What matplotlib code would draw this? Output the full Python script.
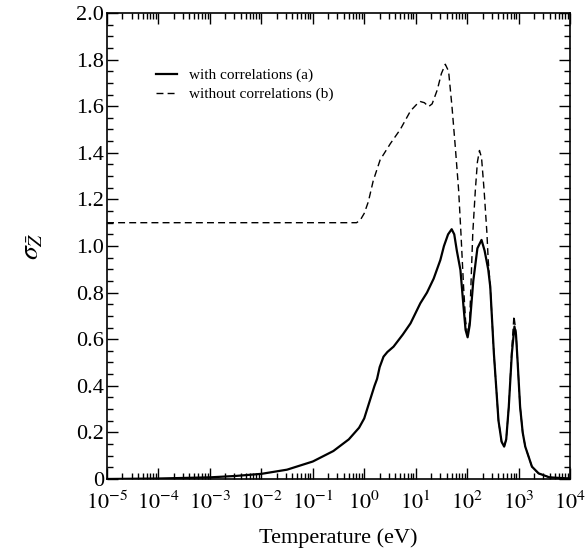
import matplotlib
matplotlib.use("Agg")
import matplotlib.pyplot as plt
import numpy
from matplotlib.ticker import LogLocator, MultipleLocator, FuncFormatter

plt.rcParams['font.family'] = ['Liberation Serif', 'DejaVu Serif']
plt.rcParams['mathtext.fontset'] = 'stix'

# log10 of temperature (eV) and sigma values
logT_a = [-5.0, -4.0, -3.0, -2.5, -2.0, -1.5, -1.0, -0.6, -0.3, -0.1, 0.0,
          0.1, 0.2, 0.25, 0.3, 0.375, 0.45, 0.57, 0.75, 0.9, 1.09, 1.22,
          1.35, 1.48, 1.55, 1.63, 1.70, 1.75, 1.80, 1.87, 1.93, 1.97, 2.01,
          2.05, 2.12, 2.20, 2.28, 2.34, 2.41, 2.45, 2.52, 2.61, 2.67, 2.72,
          2.76, 2.81, 2.87, 2.92, 2.95, 2.98, 3.03, 3.08, 3.13, 3.26, 3.39,
          3.6, 4.0]
sigma_a = [0.0, 0.002, 0.007, 0.013, 0.022, 0.04, 0.075, 0.12, 0.17, 0.22,
           0.26, 0.33, 0.40, 0.43, 0.48, 0.525, 0.545, 0.568, 0.62, 0.668,
           0.754, 0.80, 0.86, 0.94, 1.00, 1.05, 1.072, 1.05, 0.98, 0.897,
           0.74, 0.64, 0.608, 0.66, 0.85, 0.99, 1.026, 0.98, 0.90, 0.825,
           0.54, 0.25, 0.16, 0.139, 0.17, 0.31, 0.54, 0.654, 0.62, 0.51, 0.31,
           0.20, 0.139, 0.053, 0.024, 0.007, 0.002]

logT_b = [-5.0, -1.0, -0.3, -0.15, -0.08, 0.0, 0.08, 0.175, 0.31, 0.51,
          0.70, 0.90, 1.05, 1.09, 1.17, 1.25, 1.32, 1.42, 1.50, 1.576, 1.64,
          1.706, 1.77, 1.835, 1.88, 1.93, 1.97, 2.01, 2.05, 2.11, 2.16, 2.20,
          2.24, 2.28, 2.33, 2.385, 2.41, 2.45, 2.52, 2.61, 2.67, 2.72, 2.76,
          2.81, 2.87, 2.91, 2.95, 2.98, 3.03, 3.08, 3.13, 3.26, 3.39, 3.6,
          4.0]
sigma_b = [1.10, 1.10, 1.10, 1.10, 1.11, 1.14, 1.19, 1.28, 1.37, 1.44,
           1.50, 1.58, 1.615, 1.62, 1.615, 1.598, 1.61, 1.67, 1.74, 1.78,
           1.75, 1.598, 1.426, 1.24, 1.055, 0.83, 0.68, 0.62, 0.68, 1.055,
           1.24, 1.36, 1.41, 1.38, 1.24, 1.055, 0.94, 0.825, 0.54, 0.25, 0.16,
           0.139, 0.17, 0.31, 0.56, 0.70, 0.63, 0.51, 0.31, 0.20, 0.139, 0.053,
           0.024, 0.007, 0.002]

labels = ['with correlations (a)', 'without correlations (b)']

T_a = numpy.power(10.0, logT_a)
T_b = numpy.power(10.0, logT_b)

fig = plt.figure(figsize=(5.86, 5.51), dpi=100)
ax = fig.add_axes([0.1826, 0.1307, 0.7901, 0.8457])

ax.plot(T_a, sigma_a, color='black', lw=1.6, label=labels[0])
ax.plot(T_b, sigma_b, color='black', lw=1.0, ls=(0, (5, 3)), label=labels[1])

ax.set_xscale('log')
ax.set_xlim(1e-5, 1e4)
ax.set_ylim(0, 2.0)

ax.xaxis.set_major_locator(LogLocator(base=10, numticks=20))
ax.xaxis.set_minor_locator(LogLocator(base=10, subs=numpy.arange(2, 10), numticks=20))
ax.xaxis.set_major_formatter(FuncFormatter(lambda v, p: r'$10^{%d}$' % round(numpy.log10(v))))
ax.yaxis.set_major_locator(MultipleLocator(0.2))
ax.yaxis.set_minor_locator(MultipleLocator(0.05))
ax.yaxis.set_major_formatter(FuncFormatter(lambda v, p: '0' if abs(v) < 1e-9 else '%.1f' % v))

ax.tick_params(which='both', direction='in', top=True, right=True, width=1.0)
ax.tick_params(which='major', length=8, labelsize=16)
ax.tick_params(which='minor', length=4)
ax.tick_params(axis='x', which='major', pad=9)
ax.tick_params(axis='y', which='major', pad=2)
for s in ax.spines.values():
    s.set_linewidth(1.2)

ax.set_xlabel('Temperature (eV)', fontsize=16, labelpad=10)
ax.set_ylabel(r'$\sigma_{\bar{Z}}$', fontsize=20, labelpad=22)

ax.legend(loc='upper left', bbox_to_anchor=(0.076, 0.911), frameon=False,
          fontsize=11, handlelength=1.4, handletextpad=0.75, labelspacing=0.35)

fig.savefig('out.png', dpi=100)
